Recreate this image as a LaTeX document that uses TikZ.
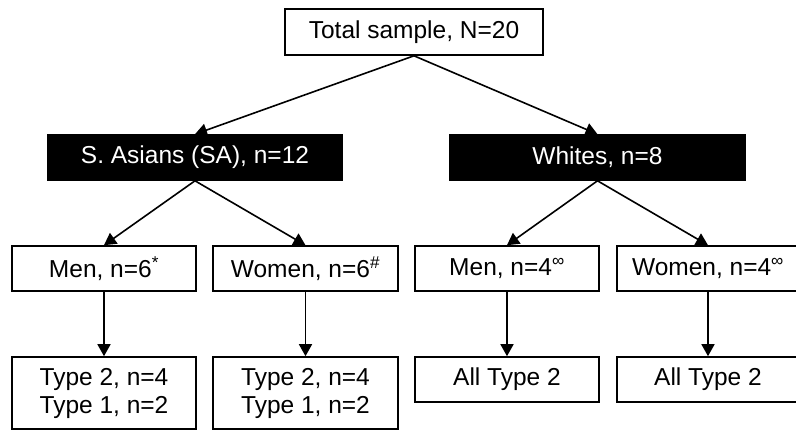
\documentclass[tikz,border=0pt]{standalone}
\usepackage{fontspec}
\setmainfont{Liberation Sans}
\usetikzlibrary{arrows.meta}
\begin{document}
\begin{tikzpicture}[x=1pt,y=-1pt,
  box/.style={draw=black,line width=1.6pt,fill=white,inner sep=0pt,align=center,
    font=\fontsize{24.5}{28}\selectfont},
  dark/.style={box,fill=black,text=white},
  arr/.style={line width=1.6pt,-{Triangle[width=13pt,length=12pt]}}]
\useasboundingbox[fill=white] (0,0) rectangle (796,431);
\node[box,minimum width=258pt,minimum height=46pt] (top) at (414,32) {Total sample, N=20};
\node[dark,minimum width=294pt,minimum height=45pt] (sa) at (195,157.5) {S. Asians (SA), n=12};
\node[dark,minimum width=295pt,minimum height=45pt] (wh) at (597.5,157.5) {Whites, n=8};
\node[box,minimum width=184pt,minimum height=45pt] (m1) at (104,268.5) {Men, n=6\textsuperscript{*}};
\node[box,minimum width=185pt,minimum height=45pt] (w1) at (305.5,268.5) {Women, n=6\textsuperscript{\#}};
\node[box,minimum width=184pt,minimum height=45pt] (m2) at (507,268.5) {Men, n=4\textsuperscript{∞}};
\node[box,minimum width=182pt,minimum height=45pt] (w2) at (708,268.5) {Women, n=4\textsuperscript{∞}};
\node[box,minimum width=184pt,minimum height=72pt] (t1) at (104,393) {Type 2, n=4\\Type 1, n=2};
\node[box,minimum width=185pt,minimum height=72pt] (t2) at (305.5,393) {Type 2, n=4\\Type 1, n=2};
\node[box,minimum width=184pt,minimum height=45pt] (a1) at (507,379.5) {All Type 2};
\node[box,minimum width=182pt,minimum height=45pt] (a2) at (708,379.5) {All Type 2};
\draw[arr] (top.south) -- (sa.north);
\draw[arr] (top.south) -- (wh.north);
\draw[arr] (sa.south) -- (m1.north);
\draw[arr] (sa.south) -- (w1.north);
\draw[arr] (wh.south) -- (m2.north);
\draw[arr] (wh.south) -- (w2.north);
\draw[arr] (m1.south) -- (t1.north);
\draw[arr] (w1.south) -- (t2.north);
\draw[arr] (m2.south) -- (a1.north);
\draw[arr] (w2.south) -- (a2.north);
\end{tikzpicture}
\end{document}
